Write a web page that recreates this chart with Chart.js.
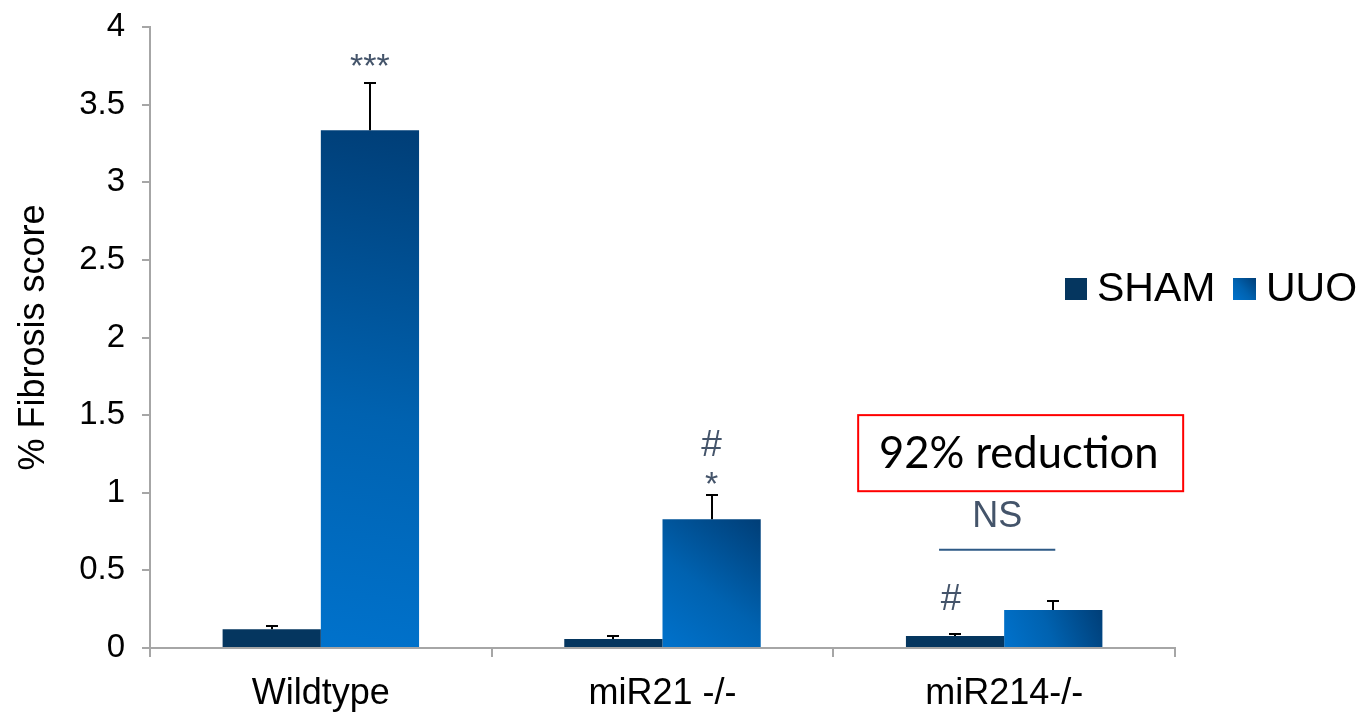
<!DOCTYPE html>
<html>
<head>
<meta charset="utf-8">
<script src="https://cdn.jsdelivr.net/npm/chart.js@4/dist/chart.umd.min.js"></script>
<style>
  html, body { margin: 0; padding: 0; background: #ffffff; }
  #wrap { width: 1370px; height: 721px; position: relative; }
</style>
</head>
<body>
<div id="wrap"><canvas id="c" width="1370" height="721"></canvas></div>
<script>
// Groups and series
const categories = ['Wildtype', 'miR21 -/-', 'miR214-/-'];
const seriesNames = ['SHAM', 'UUO'];
const shamValues = [0.12, 0.058, 0.077];
const uuoValues = [3.335, 0.83, 0.245];
// Upper error (SD) for each bar
const shamErrors = [0.02, 0.02, 0.013];
const uuoErrors = [0.305, 0.157, 0.055];
// Y axis
const yTicks = [0, 0.5, 1, 1.5, 2, 2.5, 3, 3.5, 4];
const yTitle = '% Fibrosis score';
// Significance marks: dataset, group, text lines (top to bottom)
const sigMarks = [
  { ds: 1, i: 0, lines: ['***'] },
  { ds: 1, i: 1, lines: ['#', '*'] },
  { ds: 0, i: 2, lines: ['#'] }
];
const nsLabel = 'NS';
const calloutText = '92% reduction';

const FONT = '"Liberation Sans", Arial, sans-serif';
const SHAM_COLOR = '#05365f';
const UUO_LIGHT = '#0072cc';
const UUO_DARK = '#003e77';
const MARK_COLOR = '#44546a';
const AXIS_COLOR = '#a6a6a6';

function uuoGradient(ctx2d, x0, y0, x1, y1) {
  const g = ctx2d.createLinearGradient(x0, y0, x1, y1);
  g.addColorStop(0, UUO_LIGHT);
  g.addColorStop(0.45, '#0062b0');
  g.addColorStop(1, UUO_DARK);
  return g;
}

function uuoFill(context) {
  const chart = context.chart;
  const xs = chart.scales.x, ys = chart.scales.y;
  if (!chart.chartArea || !xs || !ys || context.type !== 'data') return '#0062b0';
  const catW = (xs.right - xs.left) / categories.length;
  const barW = catW * 0.575 / 2;
  const cx = xs.getPixelForValue(context.dataIndex);
  const left = cx, right = cx + barW;
  const top = ys.getPixelForValue(uuoValues[context.dataIndex]);
  const bottom = ys.getPixelForValue(0);
  return uuoGradient(chart.ctx, left, bottom, right, top);
}

// baseline offsets (px above the error-bar top) for each text line of a mark
const markOffsets = { '1-0': [6], '1-1': [39, 0], '0-2': [24] };

const overlay = {
  id: 'overlay',
  afterDatasetsDraw(chart) {
    const ctx = chart.ctx;
    const ys = chart.scales.y, xs = chart.scales.x;
    const errs = [shamErrors, uuoErrors];
    const vals = [shamValues, uuoValues];
    // error bars (upper only)
    ctx.save();
    ctx.strokeStyle = '#000000';
    ctx.lineWidth = 2;
    for (let d = 0; d < 2; d++) {
      const meta = chart.getDatasetMeta(d);
      meta.data.forEach((bar, i) => {
        const x = Math.round(bar.x);
        const yTop = Math.round(ys.getPixelForValue(vals[d][i] + errs[d][i]));
        const yBar = ys.getPixelForValue(vals[d][i]);
        ctx.beginPath();
        ctx.moveTo(x, yBar);
        ctx.lineTo(x, yTop);
        ctx.moveTo(x - 6, yTop);
        ctx.lineTo(x + 6, yTop);
        ctx.stroke();
      });
    }
    ctx.restore();

    // significance marks above error bars
    ctx.save();
    ctx.fillStyle = MARK_COLOR;
    ctx.textAlign = 'center';
    ctx.textBaseline = 'alphabetic';
    sigMarks.forEach(m => {
      const bar = chart.getDatasetMeta(m.ds).data[m.i];
      const yTop = ys.getPixelForValue(vals[m.ds][m.i] + errs[m.ds][m.i]);
      const offs = markOffsets[m.ds + '-' + m.i];
      m.lines.forEach((t, k) => {
        const size = t.indexOf('#') >= 0 ? 37 : 34;
        ctx.font = size + 'px ' + FONT;
        const dx = (m.ds === 0 && m.i === 2) ? -4 : 0;
        ctx.fillText(t, bar.x + dx, yTop - offs[k]);
      });
    });
    ctx.restore();

    // NS bracket over the miR214 pair
    const shamBar = chart.getDatasetMeta(0).data[2];
    const uuoBar = chart.getDatasetMeta(1).data[2];
    const lineY = ys.getPixelForValue(0.633);
    ctx.save();
    ctx.strokeStyle = '#2e5a86';
    ctx.lineWidth = 2;
    ctx.beginPath();
    ctx.moveTo(shamBar.x - 16, lineY);
    ctx.lineTo(uuoBar.x + 2, lineY);
    ctx.stroke();
    ctx.fillStyle = MARK_COLOR;
    ctx.font = '36px ' + FONT;
    ctx.textAlign = 'center';
    ctx.textBaseline = 'middle';
    ctx.fillText(nsLabel, (shamBar.x - 16 + uuoBar.x + 2) / 2, ys.getPixelForValue(0.843));
    ctx.restore();

    // callout box
    const cx = xs.getPixelForValue(2);
    const bTop = ys.getPixelForValue(1.5);
    const bBot = ys.getPixelForValue(1.01);
    const bLeft = cx - 146, bRight = cx + 179;
    ctx.save();
    ctx.strokeStyle = '#ff0000';
    ctx.lineWidth = 2;
    ctx.strokeRect(bLeft, bTop, bRight - bLeft, bBot - bTop);
    ctx.fillStyle = '#000000';
    ctx.font = '43.5px Lato, "Open Sans", sans-serif';
    ctx.textAlign = 'center';
    ctx.textBaseline = 'middle';
    ctx.fillText(calloutText, (bLeft + bRight) / 2 - 2, (bTop + bBot) / 2 + 1);
    ctx.restore();

    // legend
    ctx.save();
    ctx.font = '41px ' + FONT;
    ctx.textBaseline = 'middle';
    ctx.textAlign = 'left';
    const ly = 289;
    ctx.fillStyle = SHAM_COLOR;
    ctx.fillRect(1065, ly - 11, 22, 22);
    ctx.fillStyle = '#000000';
    ctx.fillText(seriesNames[0], 1097, ly + 1);
    ctx.fillStyle = uuoGradient(ctx, 1233, ly + 11, 1256, ly - 11);
    ctx.fillRect(1233, ly - 11, 23, 22);
    ctx.fillStyle = '#000000';
    ctx.fillText(seriesNames[1], 1266, ly + 1);
    ctx.restore();
  }
};

new Chart(document.getElementById('c'), {
  type: 'bar',
  data: {
    labels: categories,
    datasets: [
      { label: seriesNames[0], data: shamValues, backgroundColor: SHAM_COLOR,
        categoryPercentage: 0.575, barPercentage: 1.0 },
      { label: seriesNames[1], data: uuoValues, backgroundColor: uuoFill,
        categoryPercentage: 0.575, barPercentage: 1.0 }
    ]
  },
  options: {
    responsive: false,
    animation: false,
    layout: { padding: { top: 27, right: 195, bottom: 0, left: 0 } },
    plugins: { legend: { display: false }, tooltip: { enabled: false } },
    scales: {
      x: {
        grid: { display: true, drawOnChartArea: false, drawTicks: true, tickLength: 9,
                color: AXIS_COLOR, lineWidth: 2, offset: true },
        border: { display: true, color: AXIS_COLOR, width: 2 },
        ticks: { color: '#000000', font: { family: FONT, size: 36 }, padding: 15 },
        afterFit(scale) { scale.height = 73; }
      },
      y: {
        min: 0, max: 4,
        afterBuildTicks(scale) { scale.ticks = yTicks.map(v => ({ value: v })); },
        grid: { display: true, drawOnChartArea: false, drawTicks: true, tickLength: 8,
                color: AXIS_COLOR, lineWidth: 2 },
        border: { display: true, color: AXIS_COLOR, width: 2 },
        ticks: { color: '#000000', font: { family: FONT, size: 33 }, padding: 17,
                 callback: v => String(v) },
        title: { display: true, text: yTitle, color: '#000000',
                 font: { family: FONT, size: 36 }, padding: { top: 12, bottom: 0 } },
        afterFit(scale) {
          scale.width = 150;
          scale.paddingTop = 0;
          scale.paddingBottom = 0;
        }
      }
    }
  },
  plugins: [overlay]
});
</script>
</body>
</html>
